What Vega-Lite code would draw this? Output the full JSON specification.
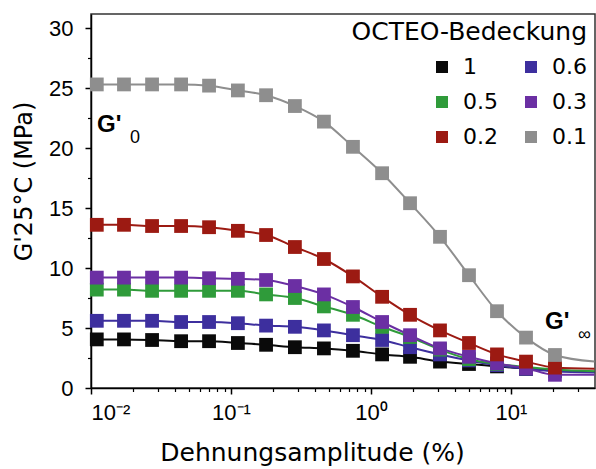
{
  "$schema": "https://vega.github.io/schema/vega-lite/v6.json",
  "width": 504,
  "height": 374,
  "autosize": "none",
  "padding": {"left": 91, "top": 14, "right": 1, "bottom": 81},
  "background": "white",
  "config": {
    "view": {"stroke": "#333", "strokeWidth": 1.5},
    "font": "Liberation Sans"
  },
  "datasets": {
    "series": [
      {"coverage": "1", "strain": 0.011, "modulus": 4.05, "kind": "m"},
      {"coverage": "1", "strain": 0.0172, "modulus": 4.05, "kind": "m"},
      {"coverage": "1", "strain": 0.0273, "modulus": 4.0, "kind": "m"},
      {"coverage": "1", "strain": 0.044, "modulus": 3.9, "kind": "m"},
      {"coverage": "1", "strain": 0.0697, "modulus": 3.9, "kind": "m"},
      {"coverage": "1", "strain": 0.112, "modulus": 3.75, "kind": "m"},
      {"coverage": "1", "strain": 0.178, "modulus": 3.6, "kind": "m"},
      {"coverage": "1", "strain": 0.286, "modulus": 3.4, "kind": "m"},
      {"coverage": "1", "strain": 0.461, "modulus": 3.3, "kind": "m"},
      {"coverage": "1", "strain": 0.743, "modulus": 3.1, "kind": "m"},
      {"coverage": "1", "strain": 1.2, "modulus": 2.8, "kind": "m"},
      {"coverage": "1", "strain": 1.9, "modulus": 2.6, "kind": "m"},
      {"coverage": "1", "strain": 3.11, "modulus": 2.2, "kind": "m"},
      {"coverage": "1", "strain": 5.01, "modulus": 2.0, "kind": "m"},
      {"coverage": "1", "strain": 7.94, "modulus": 1.8, "kind": "m"},
      {"coverage": "1", "strain": 12.8, "modulus": 1.6, "kind": "m"},
      {"coverage": "1", "strain": 20.6, "modulus": 1.45, "kind": "m"},
      {"coverage": "1", "strain": 39.5, "modulus": 1.35, "kind": "e"},

      {"coverage": "0.6", "strain": 0.011, "modulus": 5.6, "kind": "m"},
      {"coverage": "0.6", "strain": 0.0172, "modulus": 5.6, "kind": "m"},
      {"coverage": "0.6", "strain": 0.0273, "modulus": 5.6, "kind": "m"},
      {"coverage": "0.6", "strain": 0.044, "modulus": 5.5, "kind": "m"},
      {"coverage": "0.6", "strain": 0.0697, "modulus": 5.5, "kind": "m"},
      {"coverage": "0.6", "strain": 0.112, "modulus": 5.4, "kind": "m"},
      {"coverage": "0.6", "strain": 0.178, "modulus": 5.2, "kind": "m"},
      {"coverage": "0.6", "strain": 0.286, "modulus": 5.1, "kind": "m"},
      {"coverage": "0.6", "strain": 0.461, "modulus": 4.8, "kind": "m"},
      {"coverage": "0.6", "strain": 0.743, "modulus": 4.4, "kind": "m"},
      {"coverage": "0.6", "strain": 1.2, "modulus": 4.0, "kind": "m"},
      {"coverage": "0.6", "strain": 1.9, "modulus": 3.4, "kind": "m"},
      {"coverage": "0.6", "strain": 3.11, "modulus": 2.8, "kind": "m"},
      {"coverage": "0.6", "strain": 5.01, "modulus": 2.3, "kind": "m"},
      {"coverage": "0.6", "strain": 7.94, "modulus": 1.9, "kind": "m"},
      {"coverage": "0.6", "strain": 12.8, "modulus": 1.6, "kind": "m"},
      {"coverage": "0.6", "strain": 20.6, "modulus": 1.4, "kind": "m"},
      {"coverage": "0.6", "strain": 39.5, "modulus": 1.3, "kind": "e"},

      {"coverage": "0.5", "strain": 0.011, "modulus": 8.2, "kind": "m"},
      {"coverage": "0.5", "strain": 0.0172, "modulus": 8.2, "kind": "m"},
      {"coverage": "0.5", "strain": 0.0273, "modulus": 8.1, "kind": "m"},
      {"coverage": "0.5", "strain": 0.044, "modulus": 8.1, "kind": "m"},
      {"coverage": "0.5", "strain": 0.0697, "modulus": 8.1, "kind": "m"},
      {"coverage": "0.5", "strain": 0.112, "modulus": 8.1, "kind": "m"},
      {"coverage": "0.5", "strain": 0.178, "modulus": 7.8, "kind": "m"},
      {"coverage": "0.5", "strain": 0.286, "modulus": 7.5, "kind": "m"},
      {"coverage": "0.5", "strain": 0.461, "modulus": 6.8, "kind": "m"},
      {"coverage": "0.5", "strain": 0.743, "modulus": 6.1, "kind": "m"},
      {"coverage": "0.5", "strain": 1.2, "modulus": 5.1, "kind": "m"},
      {"coverage": "0.5", "strain": 1.9, "modulus": 4.25, "kind": "m"},
      {"coverage": "0.5", "strain": 3.11, "modulus": 3.2, "kind": "m"},
      {"coverage": "0.5", "strain": 5.01, "modulus": 2.4, "kind": "m"},
      {"coverage": "0.5", "strain": 7.94, "modulus": 2.0, "kind": "m"},
      {"coverage": "0.5", "strain": 12.8, "modulus": 1.75, "kind": "m"},
      {"coverage": "0.5", "strain": 20.6, "modulus": 1.55, "kind": "m"},
      {"coverage": "0.5", "strain": 39.5, "modulus": 1.4, "kind": "e"},

      {"coverage": "0.3", "strain": 0.011, "modulus": 9.2, "kind": "m"},
      {"coverage": "0.3", "strain": 0.0172, "modulus": 9.2, "kind": "m"},
      {"coverage": "0.3", "strain": 0.0273, "modulus": 9.2, "kind": "m"},
      {"coverage": "0.3", "strain": 0.044, "modulus": 9.2, "kind": "m"},
      {"coverage": "0.3", "strain": 0.0697, "modulus": 9.15, "kind": "m"},
      {"coverage": "0.3", "strain": 0.112, "modulus": 9.1, "kind": "m"},
      {"coverage": "0.3", "strain": 0.178, "modulus": 9.0, "kind": "m"},
      {"coverage": "0.3", "strain": 0.286, "modulus": 8.5, "kind": "m"},
      {"coverage": "0.3", "strain": 0.461, "modulus": 7.8, "kind": "m"},
      {"coverage": "0.3", "strain": 0.743, "modulus": 6.75, "kind": "m"},
      {"coverage": "0.3", "strain": 1.2, "modulus": 5.5, "kind": "m"},
      {"coverage": "0.3", "strain": 1.9, "modulus": 4.4, "kind": "m"},
      {"coverage": "0.3", "strain": 3.11, "modulus": 3.3, "kind": "m"},
      {"coverage": "0.3", "strain": 5.01, "modulus": 2.6, "kind": "m"},
      {"coverage": "0.3", "strain": 7.94, "modulus": 2.05, "kind": "m"},
      {"coverage": "0.3", "strain": 12.8, "modulus": 1.65, "kind": "m"},
      {"coverage": "0.3", "strain": 20.6, "modulus": 1.1, "kind": "m"},
      {"coverage": "0.3", "strain": 39.5, "modulus": 1.1, "kind": "e"},

      {"coverage": "0.2", "strain": 0.011, "modulus": 13.6, "kind": "m"},
      {"coverage": "0.2", "strain": 0.0172, "modulus": 13.6, "kind": "m"},
      {"coverage": "0.2", "strain": 0.0273, "modulus": 13.5, "kind": "m"},
      {"coverage": "0.2", "strain": 0.044, "modulus": 13.5, "kind": "m"},
      {"coverage": "0.2", "strain": 0.0697, "modulus": 13.4, "kind": "m"},
      {"coverage": "0.2", "strain": 0.112, "modulus": 13.1, "kind": "m"},
      {"coverage": "0.2", "strain": 0.178, "modulus": 12.75, "kind": "m"},
      {"coverage": "0.2", "strain": 0.286, "modulus": 11.75, "kind": "m"},
      {"coverage": "0.2", "strain": 0.461, "modulus": 10.75, "kind": "m"},
      {"coverage": "0.2", "strain": 0.743, "modulus": 9.3, "kind": "m"},
      {"coverage": "0.2", "strain": 1.2, "modulus": 7.6, "kind": "m"},
      {"coverage": "0.2", "strain": 1.9, "modulus": 6.1, "kind": "m"},
      {"coverage": "0.2", "strain": 3.11, "modulus": 4.8, "kind": "m"},
      {"coverage": "0.2", "strain": 5.01, "modulus": 3.75, "kind": "m"},
      {"coverage": "0.2", "strain": 7.94, "modulus": 2.8, "kind": "m"},
      {"coverage": "0.2", "strain": 12.8, "modulus": 2.2, "kind": "m"},
      {"coverage": "0.2", "strain": 20.6, "modulus": 1.7, "kind": "m"},
      {"coverage": "0.2", "strain": 39.5, "modulus": 1.6, "kind": "e"},

      {"coverage": "0.1", "strain": 0.011, "modulus": 25.3, "kind": "m"},
      {"coverage": "0.1", "strain": 0.0172, "modulus": 25.3, "kind": "m"},
      {"coverage": "0.1", "strain": 0.0273, "modulus": 25.3, "kind": "m"},
      {"coverage": "0.1", "strain": 0.044, "modulus": 25.3, "kind": "m"},
      {"coverage": "0.1", "strain": 0.0697, "modulus": 25.2, "kind": "m"},
      {"coverage": "0.1", "strain": 0.112, "modulus": 24.8, "kind": "m"},
      {"coverage": "0.1", "strain": 0.178, "modulus": 24.4, "kind": "m"},
      {"coverage": "0.1", "strain": 0.286, "modulus": 23.5, "kind": "m"},
      {"coverage": "0.1", "strain": 0.461, "modulus": 22.2, "kind": "m"},
      {"coverage": "0.1", "strain": 0.743, "modulus": 20.1, "kind": "m"},
      {"coverage": "0.1", "strain": 1.2, "modulus": 17.9, "kind": "m"},
      {"coverage": "0.1", "strain": 1.9, "modulus": 15.4, "kind": "m"},
      {"coverage": "0.1", "strain": 3.11, "modulus": 12.6, "kind": "m"},
      {"coverage": "0.1", "strain": 5.01, "modulus": 9.4, "kind": "m"},
      {"coverage": "0.1", "strain": 7.94, "modulus": 6.4, "kind": "m"},
      {"coverage": "0.1", "strain": 12.8, "modulus": 4.2, "kind": "m"},
      {"coverage": "0.1", "strain": 20.6, "modulus": 2.75, "kind": "m"},
      {"coverage": "0.1", "strain": 39.5, "modulus": 2.2, "kind": "e"}
    ],
    "notes": [
      {"strain": 0.01104, "modulus": 21.3, "text": "G'", "part": "main"},
      {"strain": 0.019, "modulus": 20.4, "text": "0", "part": "sub"},
      {"strain": 17.5, "modulus": 4.92, "text": "G'", "part": "main"},
      {"strain": 30.1, "modulus": 4.0, "text": "∞", "part": "sub"}
    ]
  },
  "layer": [
    {
      "data": {"name": "series"},
      "mark": {"type": "line", "interpolate": "monotone", "strokeWidth": 2, "clip": true},
      "encoding": {
        "x": {
          "field": "strain", "type": "quantitative",
          "scale": {"type": "log", "domain": [0.01, 39.8], "nice": false},
          "axis": {
            "orient": "bottom", "values": [0.01, 0.1, 1, 10],
            "labelExpr": "datum.value < 0.05 ? '10⁻²' : datum.value < 0.5 ? '10⁻¹' : datum.value < 5 ? '10⁰' : '10¹'",
            "labelFont": "Liberation Sans", "labelFontSize": 22, "labelColor": "black",
            "labelPadding": 8, "tickSize": 6, "tickColor": "black", "tickWidth": 1.5,
            "domainColor": "black", "domainWidth": 1.5, "grid": false,
            "title": "Dehnungsamplitude (%)", "titleFont": "DejaVu Sans", "titleFontSize": 25,
            "titleFontWeight": "normal", "titleColor": "black",
            "titleX": 221, "titleY": 72, "titleAlign": "center", "titleBaseline": "alphabetic"
          }
        },
        "y": {
          "field": "modulus", "type": "quantitative",
          "scale": {"domain": [0, 31.17], "nice": false, "zero": true},
          "axis": {
            "orient": "left", "values": [0, 5, 10, 15, 20, 25, 30],
            "labelFont": "Liberation Sans", "labelFontSize": 22, "labelColor": "black",
            "labelPadding": 12, "tickSize": 6, "tickColor": "black", "tickWidth": 1.5,
            "domainColor": "black", "domainWidth": 1.5, "grid": false,
            "title": "G'25°C (MPa)", "titleFont": "DejaVu Sans", "titleFontSize": 24,
            "titleFontWeight": "normal", "titleColor": "black",
            "titleY": 167, "titleAlign": "center", "titlePadding": 12
          }
        },
        "color": {
          "field": "coverage", "type": "nominal",
          "scale": {
            "domain": ["1", "0.6", "0.5", "0.3", "0.2", "0.1"],
            "range": ["#0a0a0a", "#3d2f9e", "#2f9b3a", "#6b2fa3", "#9c1a12", "#8e8e8e"]
          }
        }
      }
    },
    {
      "data": {"name": "series"},
      "transform": [{"filter": "datum.kind == 'm'"}],
      "mark": {"type": "point", "shape": "square", "filled": true, "size": 190, "opacity": 1},
      "encoding": {
        "x": {
          "field": "strain", "type": "quantitative",
          "axis": {
            "orient": "bottom",
            "values": [0.02, 0.03, 0.04, 0.05, 0.06, 0.07, 0.08, 0.09, 0.2, 0.3, 0.4, 0.5, 0.6, 0.7, 0.8, 0.9, 2, 3, 4, 5, 6, 7, 8, 9, 20, 30],
            "labels": false, "domain": false, "grid": false, "title": null,
            "tickSize": 3.5, "tickColor": "black", "tickWidth": 1.2
          }
        },
        "y": {
          "field": "modulus", "type": "quantitative",
          "axis": {
            "orient": "left",
            "values": [2.5, 7.5, 12.5, 17.5, 22.5, 27.5],
            "labels": false, "domain": false, "grid": false, "title": null,
            "tickSize": 3.5, "tickColor": "black", "tickWidth": 1.2
          }
        },
        "color": {
          "field": "coverage", "type": "nominal",
          "legend": {
            "orient": "none", "legendX": 261, "legendY": 6, "columns": 2, "direction": "horizontal",
            "title": "OCTEO-Bedeckung", "titleFont": "DejaVu Sans", "titleFontSize": 25,
            "titleFontWeight": "normal", "titleColor": "black", "titleAnchor": "end",
            "titlePadding": 11, "titleLimit": 400,
            "labelFont": "DejaVu Sans", "labelFontSize": 22, "labelColor": "black",
            "symbolType": "square", "symbolSize": 144, "symbolStrokeWidth": 0,
            "labelOffset": 10, "columnPadding": 22, "rowPadding": 13, "padding": 0
          }
        }
      }
    },
    {
      "data": {"name": "notes"},
      "transform": [{"filter": "datum.part == 'main'"}],
      "mark": {"type": "text", "align": "left", "baseline": "alphabetic", "font": "Liberation Sans", "fontSize": 24, "fontWeight": "bold", "color": "black"},
      "encoding": {
        "x": {"field": "strain", "type": "quantitative", "axis": null},
        "y": {"field": "modulus", "type": "quantitative", "axis": null},
        "text": {"field": "text"}
      }
    },
    {
      "data": {"name": "notes"},
      "transform": [{"filter": "datum.part == 'sub'"}],
      "mark": {"type": "text", "align": "left", "baseline": "alphabetic", "font": "Liberation Sans", "fontSize": 18, "color": "black"},
      "encoding": {
        "x": {"field": "strain", "type": "quantitative", "axis": null},
        "y": {"field": "modulus", "type": "quantitative", "axis": null},
        "text": {"field": "text"}
      }
    }
  ],
  "resolve": {"axis": {"x": "independent", "y": "independent"}}
}
